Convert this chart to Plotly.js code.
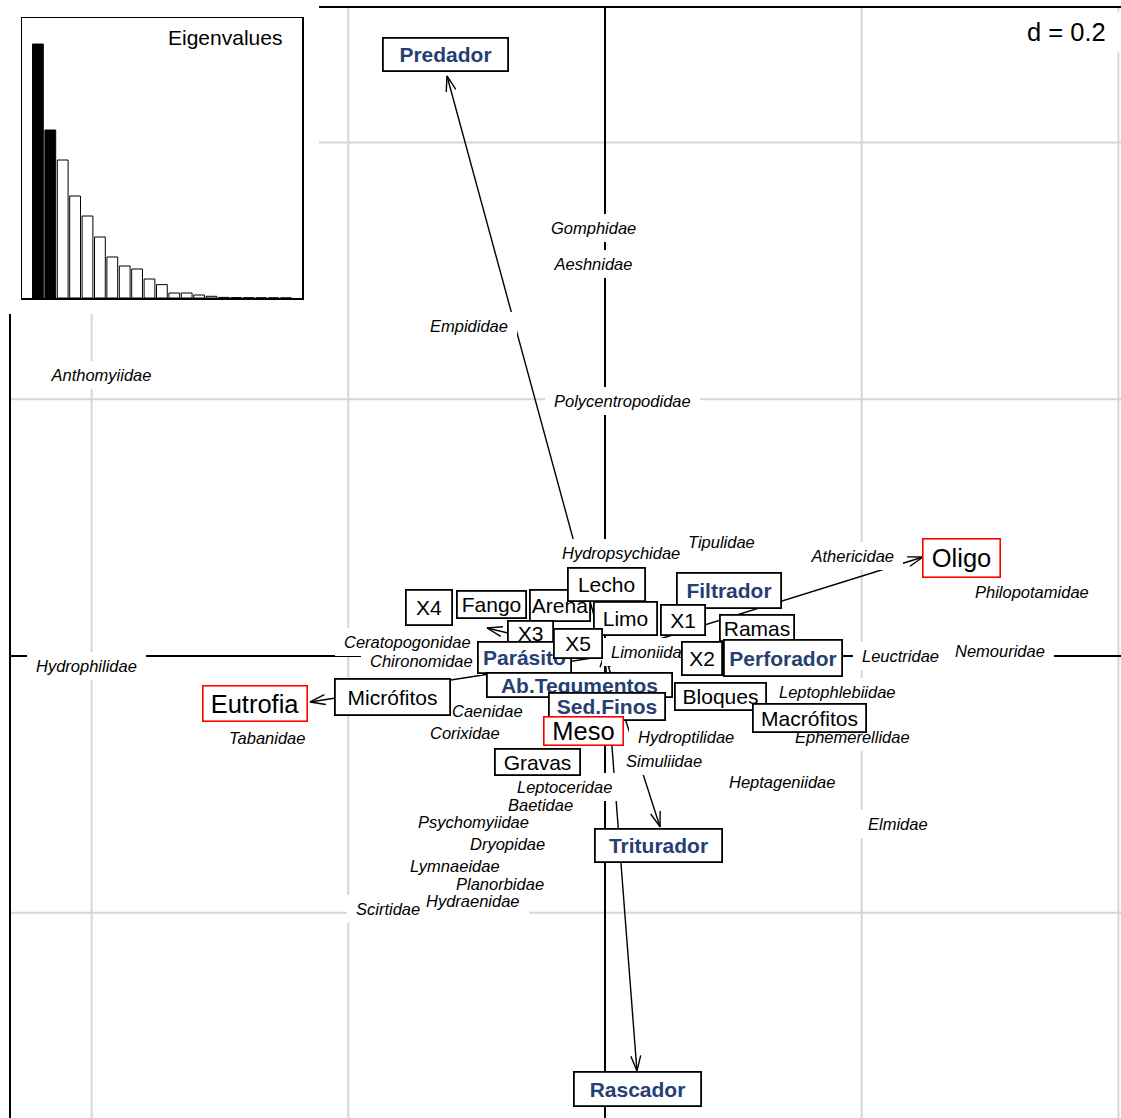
<!DOCTYPE html>
<html><head><meta charset="utf-8">
<script src="https://cdn.plot.ly/plotly-3.0.1.min.js"></script>
<style>html,body{margin:0;padding:0;background:#fff}#chart{width:1121px;height:1118px}</style>
</head><body><div id="chart"></div>
<script>
// ---------------- DATA ----------------
const eigenvalues = [0.254,0.168,0.138,0.102,0.082,0.061,0.041,0.032,0.029,0.019,0.0134,0.005,0.005,0.003,0.0017,0.0006,0.0004,0.0003,0.0002,0.0001,0.00005];
const keptAxes = 2;
const gridStep = 0.2;

// taxa (italic labels): names and coordinates
const taxa  = ['Gomphidae','Aeshnidae','Empididae','Anthomyiidae','Polycentropodidae','Tipulidae','Hydropsychidae','Athericidae','Philopotamidae','Ceratopogonidae','Chironomidae','Limoniidae','Hydrophilidae','Leuctridae','Nemouridae','Leptophlebiidae','Caenidae','Tabanidae','Corixidae','Hydroptilidae','Ephemerellidae','Simuliidae','Heptageniidae','Leptoceridae','Baetidae','Elmidae','Psychomyiidae','Dryopidae','Lymnaeidae','Planorbidae','Hydraenidae','Scirtidae'];
const taxaX = [-0.0093,-0.0093,-0.1060,-0.3927,0.0140,0.0904,0.0125,0.1932,0.3327,-0.1535,-0.1426,0.0360,-0.4036,0.2306,0.3078,0.1815,-0.0912,-0.2633,-0.1091,0.0631,0.1932,0.0460,0.1379,-0.0312,-0.0506,0.2283,-0.1021,-0.0756,-0.1169,-0.0818,-0.1028,-0.1691];
const taxaY = [0.3335,0.3054,0.2571,0.2189,0.1987,0.0888,0.0802,0.0779,0.0499,0.0109,-0.0039,0.0031,-0.0078,0.0000,0.0039,-0.0280,-0.0429,-0.0639,-0.0600,-0.0631,-0.0631,-0.0818,-0.0982,-0.1021,-0.1161,-0.1309,-0.1293,-0.1465,-0.1636,-0.1776,-0.1909,-0.1971];

// arrows from the origin (tips)
const arrowNames = ['Predador','Oligo','Eutrofia','Triturador','Rascador','X4','Lecho'];
const arrowX = [-0.1231,0.2478,-0.2298,0.0429,0.0249,-0.0919,0.0000];
const arrowY = [0.4519,0.0771,-0.0358,-0.1332,-0.3233,0.0218,0.0031];

// environmental variables (black boxes)
const envLabels = ['X4','Fango','Arena','Lecho','Limo','X3','X5','Micrófitos','Gravas','X1','Ramas','X2','Bloques','Macrófitos'];
const envX = [-0.1371,-0.0884,-0.0351,0.0012,0.0160,-0.0580,-0.0210,-0.1656,-0.0526,0.0608,0.1184,0.0756,0.0900,0.1593];
const envY = [0.0378,0.0401,0.0393,0.0561,0.0296,0.0175,0.0097,-0.0319,-0.0826,0.0280,0.0218,-0.0019,-0.0316,-0.0483];

// traits (blue bold boxes)
const traitLabels = ['Parásito','Ab.Tegumentos','Sed.Finos','Filtrador','Perforador','Predador','Triturador','Rascador'];
const traitX = [-0.0627,-0.0199,0.0012,0.0966,0.1387,-0.1243,0.0417,0.0253];
const traitY = [-0.0012,-0.0226,-0.0397,0.0510,-0.0016,0.4686,-0.1476,-0.3374];

// trophic levels (red boxes)
const levelLabels = ['Oligo','Eutrofia','Meso'];
const levelX = [0.2778,-0.2727,-0.0168];
const levelY = [0.0764,-0.0370,-0.0584];

// ---------------- STYLE ----------------
const W = 1121, H = 1118;
const PX_PER_UNIT = 1283.5;
const ORIGIN_PX = [605, 656];
const xRange = [-ORIGIN_PX[0]/PX_PER_UNIT, (W-ORIGIN_PX[0])/PX_PER_UNIT];
const yRange = [-(H-ORIGIN_PX[1])/PX_PER_UNIT, ORIGIN_PX[1]/PX_PER_UNIT];
const px2x = p => xRange[0] + p/PX_PER_UNIT;
const py2y = p => yRange[1] - p/PX_PER_UNIT;
const FONT = '"Liberation Sans", Arial, Helvetica, sans-serif';
const BLUE = '#263f73';
const boxSize = {
  'X4':[48,37],'Fango':[71,29],'Arena':[62,33],'Lecho':[79,35],'Limo':[65,35],'X3':[47,27],'X5':[50,31],
  'Micrófitos':[117,38],'Gravas':[87,28],'X1':[46,32],'Ramas':[76,28],'X2':[42,35],'Bloques':[93,29],'Macrófitos':[115,30],
  'Parásito':[95,33],'Ab.Tegumentos':[187,26],'Sed.Finos':[118,29],'Filtrador':[106,37],'Perforador':[120,38],
  'Predador':[127,35],'Triturador':[129,35],'Rascador':[129,36],
  'Oligo':[79,40],'Eutrofia':[106,37],'Meso':[81,30]
};
const frame = {left:10, top:7, right:1140, bottom:1140};
const insetCover = {right:319, bottom:314};

const ctx = document.createElement('canvas').getContext('2d');
function textWidth(t, size, italic, bold){
  ctx.font = (italic?'italic ':'') + (bold?'bold ':'') + size + 'px "Liberation Sans"';
  return ctx.measureText(t).width;
}

// ---------------- TRACES ----------------
const traces = [];
// grid
const gx = [], gy = [];
for (let v = Math.ceil(xRange[0]/gridStep)*gridStep; v <= xRange[1]+1e-9; v += gridStep) {
  if (Math.abs(v) < 1e-9) continue;
  gx.push(v, v, null); gy.push(py2y(frame.top), yRange[0], null);
}
for (let v = Math.ceil(yRange[0]/gridStep)*gridStep; v <= yRange[1]+1e-9; v += gridStep) {
  if (Math.abs(v) < 1e-9) continue;
  gx.push(px2x(frame.left), xRange[1], null); gy.push(v, v, null);
}
traces.push({x:gx, y:gy, mode:'lines', line:{color:'#d6d6d6', width:2}, hoverinfo:'skip'});
// axes through origin
traces.push({x:[px2x(frame.left), xRange[1], null, 0, 0], y:[0, 0, null, py2y(frame.top), yRange[0]],
  mode:'lines', line:{color:'#000', width:2}, hoverinfo:'skip'});
// frame
traces.push({x:[px2x(frame.left), px2x(frame.left), px2x(frame.right), px2x(frame.right), px2x(frame.left)],
  y:[py2y(frame.bottom), py2y(frame.top), py2y(frame.top), py2y(frame.bottom), py2y(frame.bottom)],
  mode:'lines', line:{color:'#000', width:2}, hoverinfo:'skip'});
// arrows
const ax = [], ay = [];
const headLen = 16/PX_PER_UNIT, headAng = 18*Math.PI/180;
arrowX.forEach((tx, i) => {
  const ty = arrowY[i];
  ax.push(0, tx, null); ay.push(0, ty, null);
  const L = Math.hypot(tx, ty), bx = -tx/L, by = -ty/L;
  const r = a => [bx*Math.cos(a) - by*Math.sin(a), bx*Math.sin(a) + by*Math.cos(a)];
  const p1 = r(headAng), p2 = r(-headAng);
  ax.push(tx + headLen*p1[0], tx, tx + headLen*p2[0], null);
  ay.push(ty + headLen*p1[1], ty, ty + headLen*p2[1], null);
});
traces.push({x:ax, y:ay, mode:'lines', line:{color:'#000', width:1.4}, hoverinfo:'skip'});
// white background behind the eigenvalue inset
traces.push({x:[xRange[0], px2x(insetCover.right), px2x(insetCover.right), xRange[0], xRange[0]],
  y:[yRange[1], yRange[1], py2y(insetCover.bottom), py2y(insetCover.bottom), yRange[1]],
  mode:'lines', fill:'toself', fillcolor:'#fff', line:{width:0, color:'#fff'}, hoverinfo:'skip'});
// eigenvalue bars
traces.push({type:'bar', x:eigenvalues.map((_, i) => i+1), y:eigenvalues, xaxis:'x2', yaxis:'y2', width:0.87,
  marker:{color:eigenvalues.map((_, i) => i < keptAxes ? '#000' : '#fff'), line:{color:'#000', width:1}}, hoverinfo:'skip'});

// ---------------- ANNOTATIONS ----------------
const ann = [];
// pass 1: white backgrounds of taxa labels; pass 2: their texts
[true, false].forEach(bgPass => {
  taxa.forEach((t, i) => {
    const w = textWidth(t, 16.5, true, false);
    ann.push({x:taxaX[i], y:taxaY[i], xref:'x', yref:'y', text:'<i>'+t+'</i>', showarrow:false,
      font:{family:FONT, size:16.5, color: bgPass ? 'rgba(0,0,0,0)' : '#000'},
      bgcolor: bgPass ? '#fff' : 'rgba(0,0,0,0)', borderpad:0, borderwidth:0,
      width:w+18, height:28, xanchor:'center', yanchor:'middle'});
  });
});
function boxAnn(label, x, y, fontSize, color, border, bold){
  const [w, h] = boxSize[label];
  const bw = border === '#ff0000' ? 1.6 : 1.8;
  return {x, y, xref:'x', yref:'y', text: bold ? '<b>'+label+'</b>' : label, showarrow:false,
    font:{family:FONT, size:fontSize, color}, bgcolor:'#fff', bordercolor:border, borderwidth:bw, borderpad:0,
    width:w-2*bw, height:h-2*bw, xanchor:'center', yanchor:'middle', align:'center', valign:'middle'};
}
const drawOrder = ['X4','Fango','Arena','Lecho','Limo','X3','Parásito','X5','Micrófitos','Ab.Tegumentos','Sed.Finos','Gravas',
  'Filtrador','X1','Ramas','X2','Perforador','Bloques','Macrófitos','Predador','Triturador','Rascador'];
drawOrder.forEach(l => {
  let i = envLabels.indexOf(l);
  if (i >= 0) { ann.push(boxAnn(l, envX[i], envY[i], 21, '#000', '#000', false)); return; }
  i = traitLabels.indexOf(l);
  if (i >= 0) ann.push(boxAnn(l, traitX[i], traitY[i], 21, BLUE, '#000', true));
});
levelLabels.forEach((l, i) => ann.push(boxAnn(l, levelX[i], levelY[i], 25.5, '#000', '#ff0000', false)));
// scale legend
const dTxt = 'd = ' + gridStep;
ann.push({x:1121/W, y:1-32/H, xref:'paper', yref:'paper', xanchor:'right', yanchor:'middle', text:dTxt, showarrow:false,
  font:{family:FONT, size:25.5, color:'#000'}, bgcolor:'#fff', borderpad:0, width:textWidth(dTxt,25.5)+14, height:40, align:'left'});
ann.push({x:284/W, y:1-37/H, xref:'paper', yref:'paper', xanchor:'right', yanchor:'middle', text:'Eigenvalues', showarrow:false,
  font:{family:FONT, size:21, color:'#000'}});

const insetX = [-0.282, 22.3];
const insetY = [0, eigenvalues[0]*(297.7-18)/253.7];
const layout = {
  width:W, height:H, margin:{l:0, r:0, t:0, b:0}, paper_bgcolor:'#fff', plot_bgcolor:'#fff', showlegend:false,
  xaxis:{range:xRange, visible:false, fixedrange:true},
  yaxis:{range:yRange, visible:false, fixedrange:true},
  xaxis2:{domain:[22/W, 302/W], range:insetX, anchor:'y2', showline:true, mirror:true, linecolor:'#000', linewidth:1.5,
    showgrid:false, zeroline:false, showticklabels:false, ticks:''},
  yaxis2:{domain:[1-298/H, 1-18/H], range:insetY, anchor:'x2', showline:true, mirror:true, linecolor:'#000', linewidth:1.5,
    showgrid:false, zeroline:false, showticklabels:false, ticks:''},
  annotations:ann
};
Plotly.newPlot('chart', traces, layout, {staticPlot:true, displayModeBar:false});
</script></body></html>
